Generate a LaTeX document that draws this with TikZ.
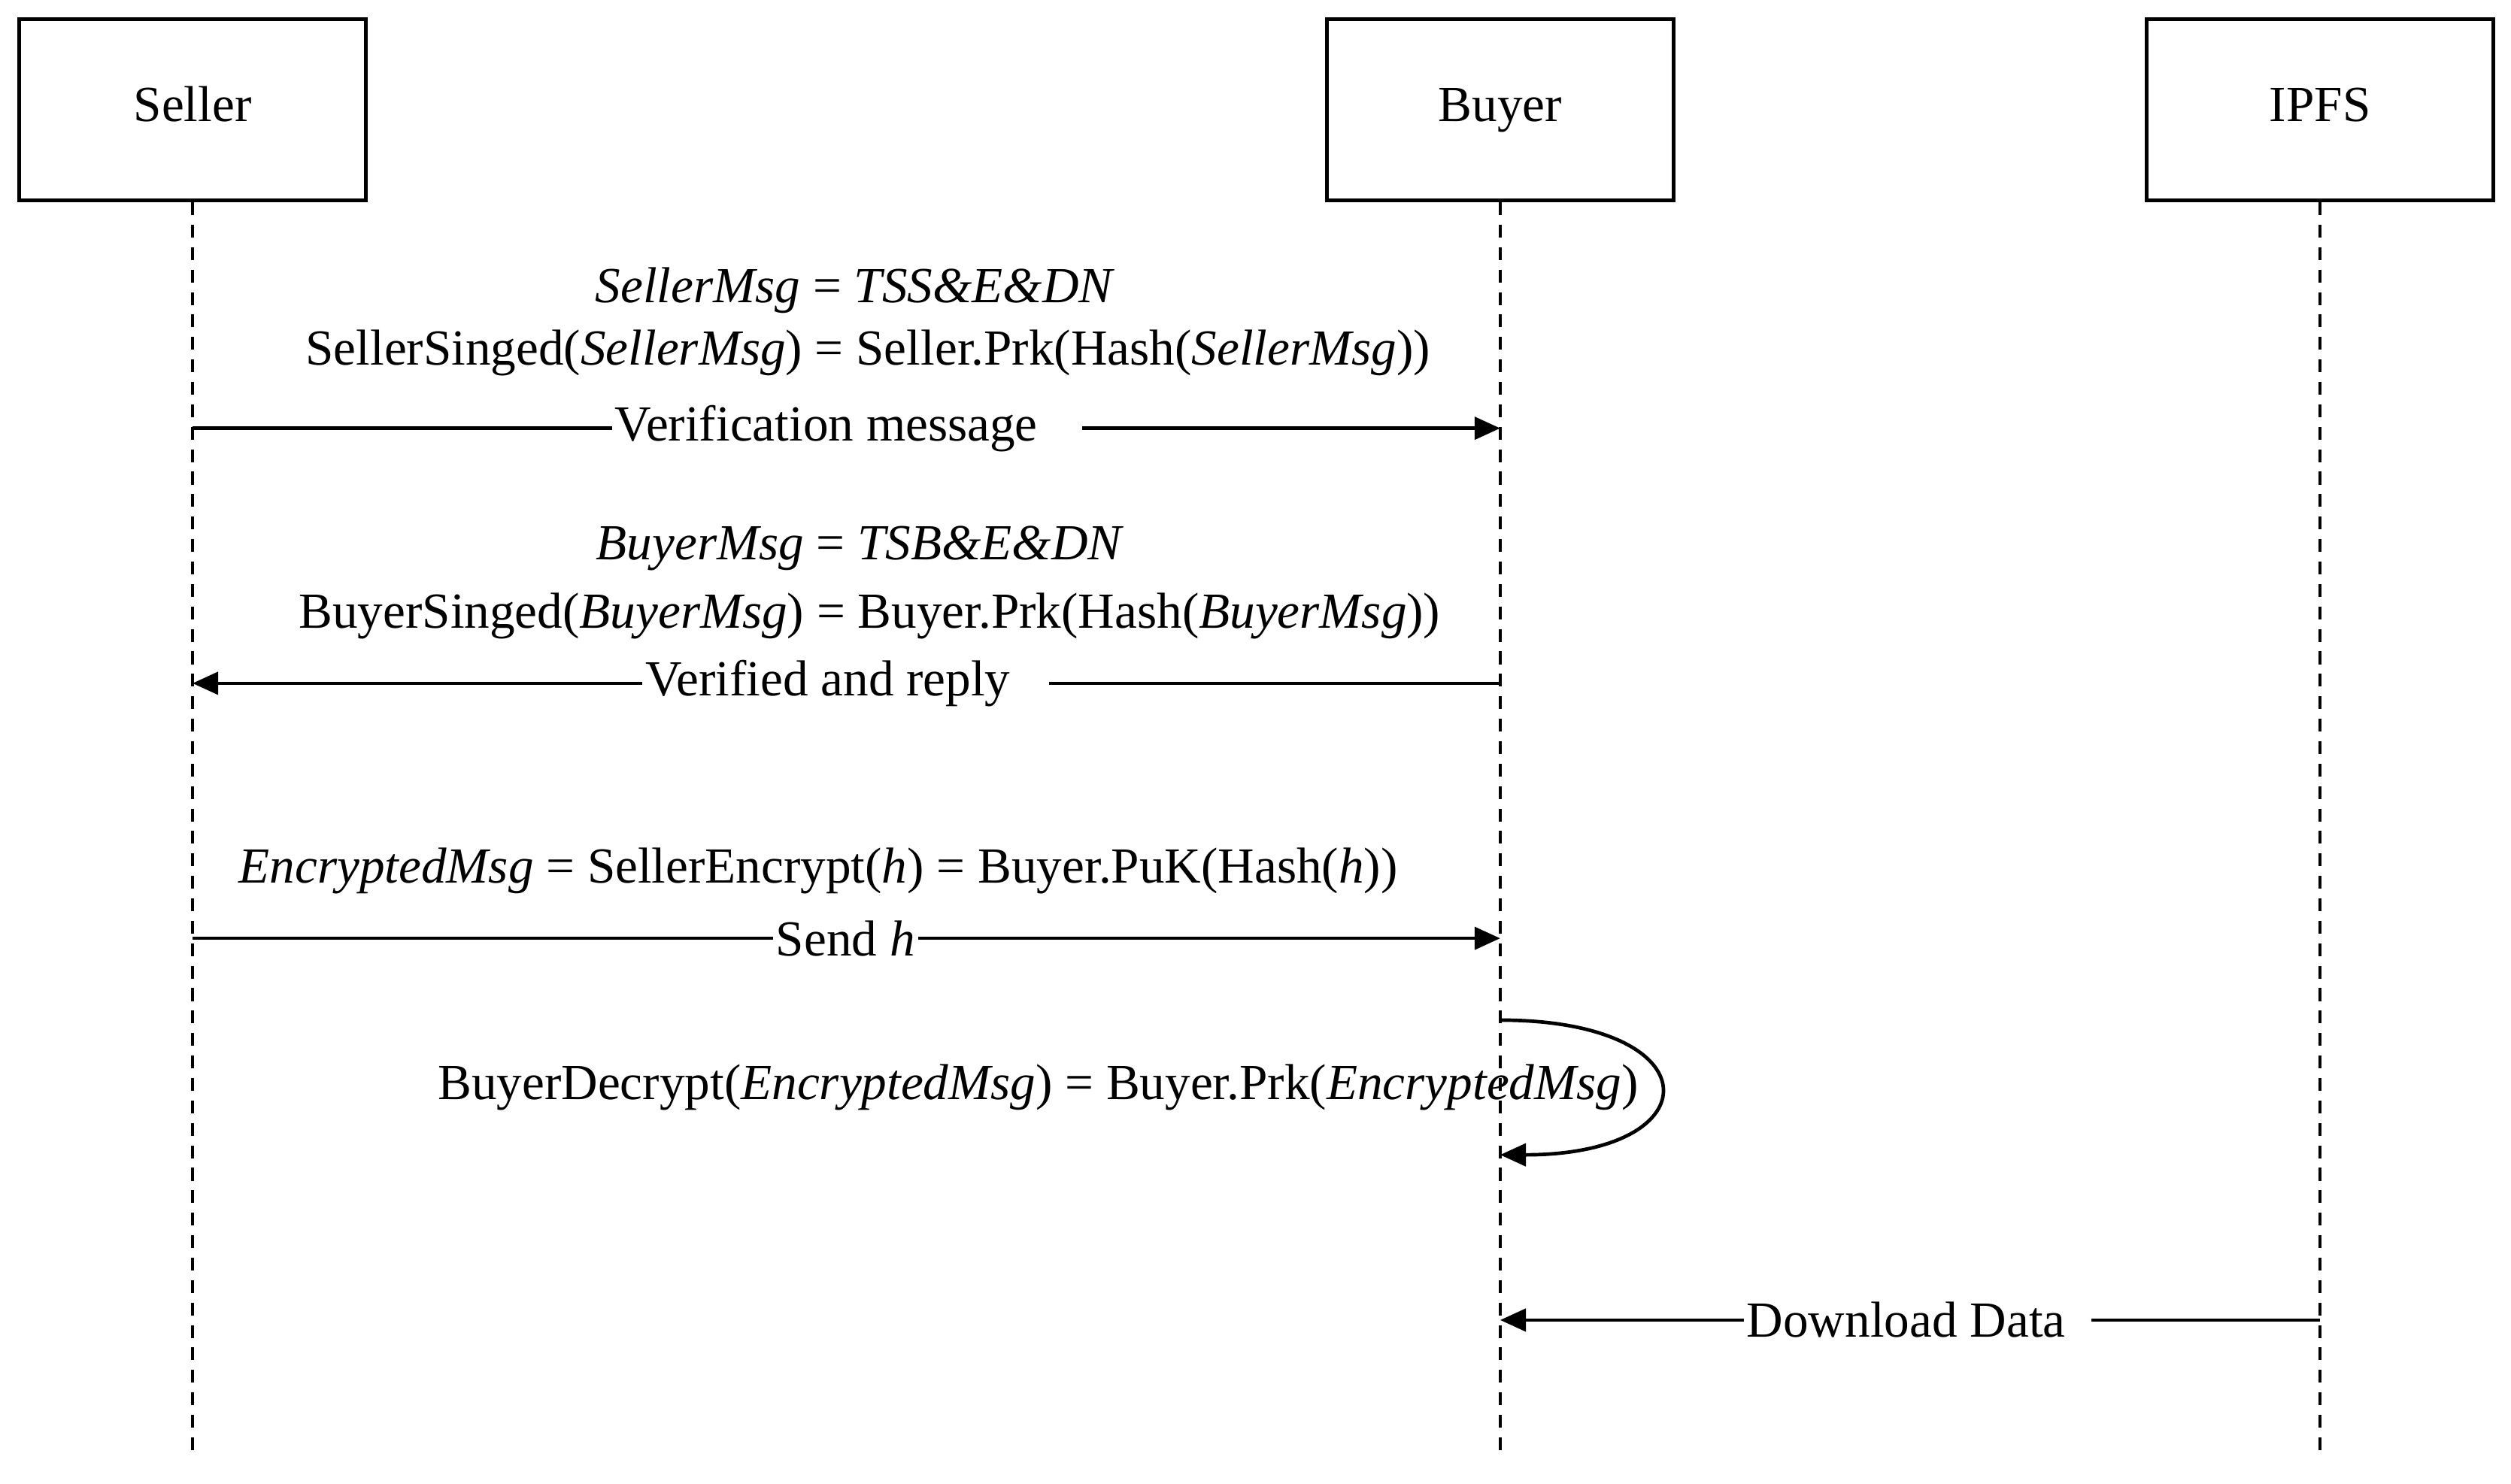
\documentclass[tikz,border=0pt]{standalone}
\usepackage{fontspec}
\setmainfont{Liberation Serif}
\usetikzlibrary{arrows.meta}
\begin{document}
\begin{tikzpicture}[x=1pt,y=-1pt,
  every node/.style={font=\fontsize{31.5}{36}\selectfont},
  actor/.style={draw,line width=2.2pt,minimum width=216pt,minimum height=113pt,inner sep=0,text height=21pt,text depth=7pt},
  life/.style={dashed,line width=2pt,dash pattern=on 8pt off 6pt},
  msg/.style={line width=2.2pt,-{Triangle[length=16pt,width=14pt]}},
  lbl/.style={fill=white,inner sep=2pt}]
\useasboundingbox (0,0) rectangle (1565,925);
\node[actor] (s) at (120,68.5) {Seller};
\node[actor] (b) at (935,68.5) {Buyer};
\node[actor] (i) at (1446,68.5) {IPFS};
\coordinate (se) at (120,905); \coordinate (be) at (935,905); \coordinate (ie) at (1446,905);
\draw[life] (s.south) -- (se);
\draw[life] (b.south) -- (be);
\draw[life] (i.south) -- (ie);
\coordinate (a1s) at (120,267); \coordinate (a1e) at (935,267);
\draw[msg] (a1s) -- (a1e);
\node[lbl] (l1) at (528,267) {Verification message\kern26pt};
\node (t1a) at (533,181) {\textit{SellerMsg} = \textit{TSS\&E\&DN}};
\node (t1b) at (541,220) {SellerSinged(\textit{SellerMsg}) = Seller.Prk(Hash(\textit{SellerMsg}))};
\coordinate (a2s) at (935,426); \coordinate (a2e) at (120,426);
\draw[msg] (a2s) -- (a2e);
\node[lbl] (l2) at (527,426) {Verified and reply\kern22pt};
\node (t2a) at (536,342) {\textit{BuyerMsg} = \textit{TSB\&E\&DN}};
\node (t2b) at (542,384) {BuyerSinged(\textit{BuyerMsg}) = Buyer.Prk(Hash(\textit{BuyerMsg}))};
\coordinate (a3s) at (120,585); \coordinate (a3e) at (935,585);
\draw[msg] (a3s) -- (a3e);
\node[lbl] (l3) at (527,585) {Send \textit{h}};
\node (t3) at (510,543) {\textit{EncryptedMsg} = SellerEncrypt(\textit{h}) = Buyer.PuK(Hash(\textit{h}))};
\coordinate (a4s) at (935,636); \coordinate (a4e) at (935,720);
\draw[msg] (a4s) .. controls (1068,636) and (1068,720) .. (a4e);
\node (t4) at (647,678) {BuyerDecrypt(\textit{EncryptedMsg}) = Buyer.Prk(\textit{EncryptedMsg})};
\coordinate (a5s) at (1446,823); \coordinate (a5e) at (935,823);
\draw[msg] (a5s) -- (a5e);
\node[lbl] (l5) at (1195,823) {Download Data\kern14pt};
\end{tikzpicture}
\end{document}
